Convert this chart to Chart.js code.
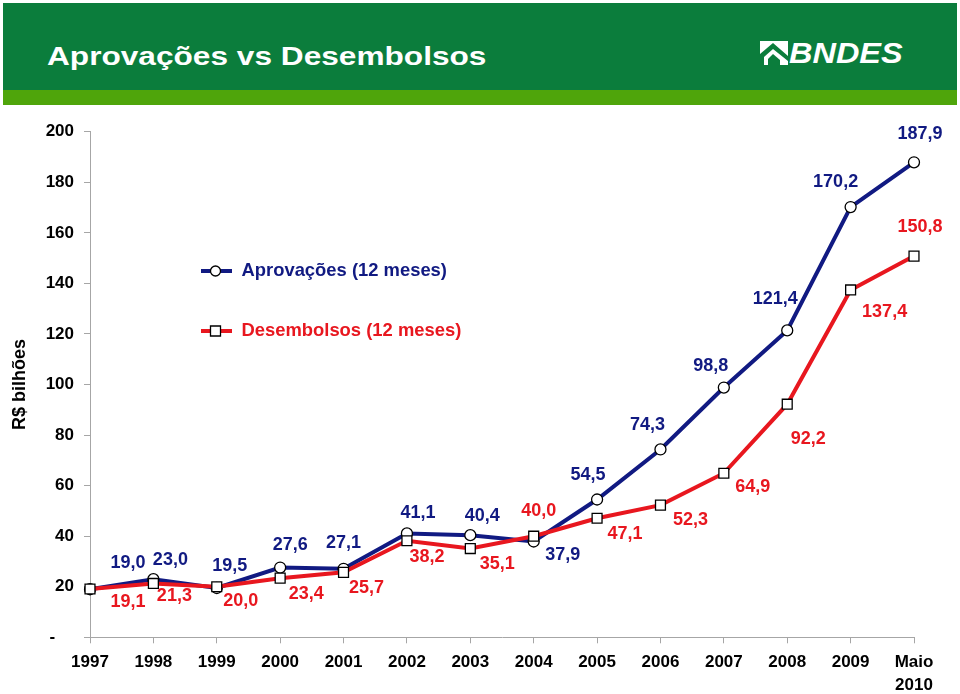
<!DOCTYPE html>
<html>
<head>
<meta charset="utf-8">
<script src="https://cdn.jsdelivr.net/npm/chart.js@4"></script>
<style>
html,body{margin:0;padding:0;background:#fff;width:960px;height:694px;overflow:hidden;font-family:"Liberation Sans",Arial,sans-serif}
#wrap{position:relative;width:960px;height:694px}
#c{position:absolute;left:0;top:0}
#banner{position:absolute;left:3px;top:3px;width:954px;height:87px;background:#0b7d3c}
#strip{position:absolute;left:3px;top:90px;width:954px;height:15px;background:#4fa50b}
#title{position:absolute;left:47px;top:43.5px;color:#fff;font-size:25px;line-height:25px;font-weight:bold;white-space:nowrap;transform:scaleX(1.265);transform-origin:0 0}
#logo{position:absolute;left:760px;top:41px;height:24px}
#logotext{position:absolute;left:789px;top:39px;color:#fff;font-size:29px;line-height:29px;font-weight:bold;font-style:italic;white-space:nowrap;transform:scaleX(1.12);transform-origin:0 0}
</style>
</head>
<body>
<div id="wrap">
  <canvas id="c" width="960" height="694"></canvas>
  <div id="banner"></div>
  <div id="strip"></div>
  <div id="title">Aprovações vs Desembolsos</div>
  <svg id="logo" width="28" height="24" viewBox="0 0 28 24">
    <rect x="0" y="0" width="28" height="24" fill="#fff"/>
    <polygon points="0,13 13,2 28,15 28,20 13,8 4,16 4,24 0,24" fill="#0b7d3c"/>
    <polygon points="8,18 13,13 20,19 20,24 8,24" fill="#0b7d3c"/>
  </svg>
  <div id="logotext">BNDES</div>
</div>
<script>
// ---- data ----
const categories = ['1997','1998','1999','2000','2001','2002','2003','2004','2005','2006','2007','2008','2009',['Maio','2010']];
const aprovacoes = [19.0, 23.0, 19.5, 27.6, 27.1, 41.1, 40.4, 37.9, 54.5, 74.3, 98.8, 121.4, 170.2, 187.9];
const desembolsos = [19.1, 21.3, 20.0, 23.4, 25.7, 38.2, 35.1, 40.0, 47.1, 52.3, 64.9, 92.2, 137.4, 150.8];
const seriesNames = ['Aprovações (12 meses)', 'Desembolsos (12 meses)'];
const yTickValues = [0, 20, 40, 60, 80, 100, 120, 140, 160, 180, 200];
const yAxisTitle = 'R$ bilhões';

// label placement (offset from each point, px)
const aprovLabelOffset = [[38,-26],[17,-19],[13,-22],[10,-22],[0,-26],[11,-20],[12,-19],[29,14],[-9,-24],[-13,-24],[-13,-22],[-12,-31],[-15,-25],[6,-28]];
const desembLabelOffset = [[38,13],[21,13],[24,14],[26,16],[23,16],[20,16],[27,15],[5,-25],[28,16],[30,15],[29,14],[21,35],[34,22],[6,-29]];

const NAVY = '#111a82';
const RED = '#e8171f';
const fmt = v => v.toFixed(1).replace('.', ',');
const FONT = '"Liberation Sans", Arial, sans-serif';

const labelPlugin = {
  id: 'pointLabels',
  afterDatasetsDraw(chart) {
    const ctx = chart.ctx;
    ctx.save();
    ctx.font = 'bold 18px ' + FONT;
    ctx.textAlign = 'center';
    ctx.textBaseline = 'middle';
    chart.data.datasets.forEach((ds, di) => {
      const meta = chart.getDatasetMeta(di);
      const offs = ds.labelOffsets;
      ctx.fillStyle = ds.labelColor;
      meta.data.forEach((pt, i) => {
        ctx.fillText(fmt(ds.data[i]), pt.x + offs[i][0], pt.y + offs[i][1]);
      });
    });
    ctx.restore();
  }
};

const legendPlugin = {
  id: 'insideLegend',
  afterDraw(chart) {
    const ctx = chart.ctx;
    const items = [
      {name: seriesNames[0], color: NAVY, style: 'circle', y: 271},
      {name: seriesNames[1], color: RED, style: 'rect', y: 331}
    ];
    ctx.save();
    items.forEach(it => {
      ctx.strokeStyle = it.color;
      ctx.lineWidth = 4;
      ctx.beginPath();
      ctx.moveTo(201, it.y);
      ctx.lineTo(232, it.y);
      ctx.stroke();
      ctx.fillStyle = '#fff';
      ctx.strokeStyle = '#000';
      ctx.lineWidth = 1.3;
      ctx.beginPath();
      if (it.style === 'circle') {
        ctx.arc(215.5, it.y, 5, 0, Math.PI * 2);
      } else {
        ctx.rect(210.5, it.y - 5, 10, 10);
      }
      ctx.fill();
      ctx.stroke();
      ctx.font = 'bold 18.4px ' + FONT;
      ctx.textAlign = 'left';
      ctx.textBaseline = 'middle';
      ctx.fillStyle = it.color;
      ctx.fillText(it.name, 241.5, it.y);
    });
    ctx.restore();
  }
};

new Chart(document.getElementById('c'), {
  type: 'line',
  data: {
    labels: categories,
    datasets: [
      {
        label: seriesNames[0],
        data: aprovacoes,
        borderColor: NAVY,
        borderWidth: 4,
        pointStyle: 'circle',
        pointRadius: 5.5,
        pointBackgroundColor: '#fff',
        pointBorderColor: '#000',
        pointBorderWidth: 1.3,
        tension: 0,
        order: 1,
        labelColor: NAVY,
        labelOffsets: aprovLabelOffset
      },
      {
        label: seriesNames[1],
        data: desembolsos,
        borderColor: RED,
        borderWidth: 4,
        pointStyle: 'rect',
        pointRadius: 7,
        pointBackgroundColor: '#fff',
        pointBorderColor: '#000',
        pointBorderWidth: 1.3,
        tension: 0,
        order: 0,
        labelColor: RED,
        labelOffsets: desembLabelOffset
      }
    ]
  },
  options: {
    responsive: false,
    animation: false,
    devicePixelRatio: 1,
    layout: {padding: {top: 131.7, right: 46, bottom: 0, left: 0}},
    plugins: {legend: {display: false}, tooltip: {enabled: false}, title: {display: false}},
    scales: {
      x: {
        type: 'category',
        offset: false,
        grid: {drawOnChartArea: false, drawTicks: true, tickLength: 6, color: '#a6a6a6', offset: false},
        border: {color: '#a6a6a6', width: 1},
        ticks: {
          color: '#000',
          font: {family: FONT, size: 17, weight: 'bold', lineHeight: 1.35},
          padding: 8,
          maxRotation: 0,
          autoSkip: false
        },
        afterFit(scale) { scale.height = 56.7; }
      },
      y: {
        min: 0,
        max: 200,
        afterBuildTicks(scale) { scale.ticks = yTickValues.map(v => ({value: v})); },
        grid: {drawOnChartArea: false, drawTicks: true, tickLength: 6, color: '#a6a6a6'},
        border: {color: '#a6a6a6', width: 1},
        ticks: {
          color: '#000',
          font: {family: FONT, size: 17, weight: 'bold'},
          padding: 10,
          callback: v => v === 0 ? '-    ' : String(v)
        },
        title: {
          display: true,
          text: yAxisTitle,
          color: '#000',
          font: {family: FONT, size: 18, weight: 'bold'},
          padding: {top: 9, bottom: 0}
        },
        afterFit(scale) { scale.width = 90; }
      }
    }
  },
  plugins: [labelPlugin, legendPlugin]
});
</script>
</body>
</html>
